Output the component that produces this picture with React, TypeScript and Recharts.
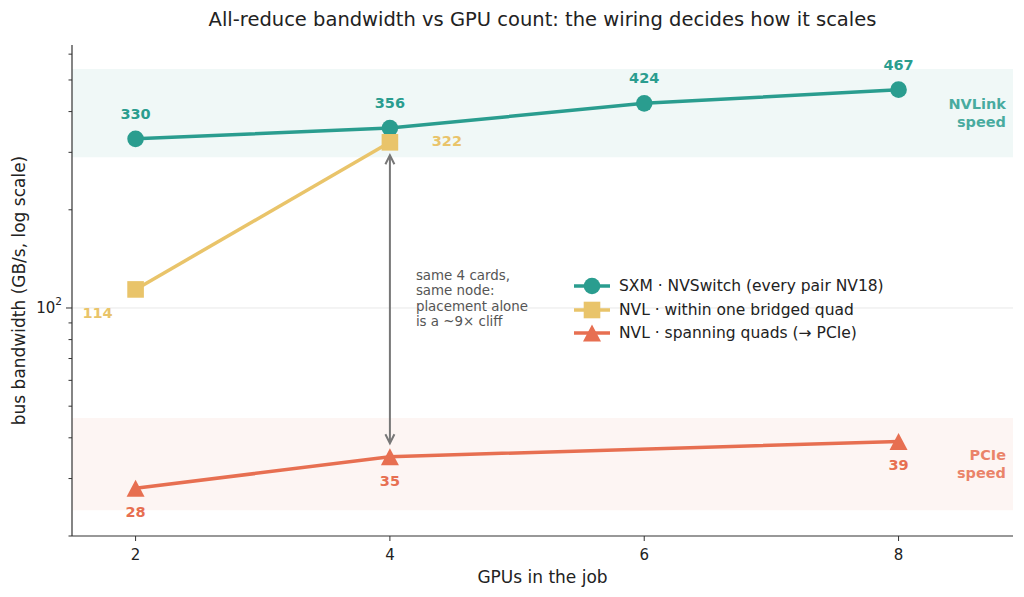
import {
  LineChart,
  Line,
  XAxis,
  YAxis,
  ReferenceArea,
  ReferenceLine,
  LabelList,
  Legend,
} from "recharts";

const FONT = "'DejaVu Sans', sans-serif";

const gpuCounts = [2, 4, 6, 8];
const sxmBandwidth = [330, 356, 424, 467];
const nvlQuadBandwidth = [114, 322, null, null];
const nvlSpanBandwidth = [28, 35, null, 39];

const xTicks = [2, 4, 6, 8];
const yTicks = [20, 30, 40, 50, 60, 70, 80, 90, 100, 200, 300, 400, 500, 600];
const nvlinkBand = [290, 540];
const pcieBand = [24, 46];
// the double arrow between the two 4-GPU NVL runs
const cliffArrow = [294, 38.5];
const cliffNote = ["same 4 cards,", "same node:", "placement alone", "is a ~9× cliff"];

const series = [
  { key: "sxm", name: "SXM · NVSwitch (every pair NV18)", color: "#2a9d8f", shape: "circle" },
  { key: "quad", name: "NVL · within one bridged quad", color: "#e9c46a", shape: "square" },
  { key: "span", name: "NVL · spanning quads (→ PCIe)", color: "#e76f51", shape: "triangle" },
];

const data = gpuCounts.map((g, i) => ({
  gpus: g,
  sxm: sxmBandwidth[i],
  quad: nvlQuadBandwidth[i],
  span: nvlSpanBandwidth[i],
}));

function Marker({ shape, cx, cy, color }: any) {
  if (cx == null || cy == null) return null;
  if (shape === "circle") return <circle cx={cx} cy={cy} r={8.3} fill={color} />;
  if (shape === "square")
    return <rect x={cx - 8.3} y={cy - 8.3} width={16.6} height={16.6} fill={color} />;
  return (
    <path
      d={`M${cx},${cy - 8.5} L${cx + 9},${cy + 8.5} L${cx - 9},${cy + 8.5} Z`}
      fill={color}
    />
  );
}

const dotFor = (shape: string, color: string) => (p: any) => (
  <Marker key={`${shape}-${p.index}`} shape={shape} cx={p.cx} cy={p.cy} color={color} />
);

const valueLabel =
  (color: string, offset: (i: number) => [number, number]) => (p: any) => {
    if (p.value == null) return null;
    const [dx, dy] = offset(p.index);
    return (
      <text
        x={p.x + dx}
        y={p.y + dy}
        textAnchor="middle"
        dominantBaseline="central"
        fill={color}
        fontSize={14.5}
        fontWeight="bold"
        fontFamily={FONT}
      >
        {p.value}
      </text>
    );
  };

const bandLabel = (lines: string[], color: string) => (p: any) => {
  const vb = p.viewBox;
  const mid = vb.y + vb.height / 2;
  return (
    <text
      x={vb.x + vb.width - 7}
      textAnchor="end"
      fill={color}
      fillOpacity={0.85}
      fontSize={14.5}
      fontWeight="bold"
      fontFamily={FONT}
    >
      {lines.map((l, i) => (
        <tspan key={l} x={vb.x + vb.width - 7} y={mid + (i - 0.5) * 17.5} dominantBaseline="central">
          {l}
        </tspan>
      ))}
    </text>
  );
};

const CliffArrow = (p: any) => {
  const x = p.x1;
  const top = Math.min(p.y1, p.y2);
  const bot = Math.max(p.y1, p.y2);
  const mid = (top + bot) / 2;
  const c = "#777";
  return (
    <g>
      <line x1={x} y1={top + 1} x2={x} y2={bot - 1} stroke={c} strokeWidth={2} />
      <path d={`M${x - 4.5},${top + 9} L${x},${top} L${x + 4.5},${top + 9}`} fill="none" stroke={c} strokeWidth={2} />
      <path d={`M${x - 4.5},${bot - 9} L${x},${bot} L${x + 4.5},${bot - 9}`} fill="none" stroke={c} strokeWidth={2} />
      <text fontSize={13.4} fill="#555" fontFamily={FONT}>
        {cliffNote.map((l, i) => (
          <tspan key={l} x={x + 26} y={mid - 24 + i * 15.4} dominantBaseline="central">
            {l}
          </tspan>
        ))}
      </text>
    </g>
  );
};

const YTick = (p: any) => {
  const v = p.payload.value;
  const major = v === 100;
  const len = major ? 6 : 3.5;
  return (
    <g>
      <line x1={p.x - len} x2={p.x} y1={p.y} y2={p.y} stroke="#333" strokeWidth={1} />
      {major && (
        <text
          x={p.x - len - 4}
          y={p.y}
          textAnchor="end"
          dominantBaseline="central"
          fill="#222"
          style={{ fontSize: 15, fontFamily: FONT }}
        >
          10<tspan dy={-7} style={{ fontSize: 10.5 }}>2</tspan>
        </text>
      )}
    </g>
  );
};

const XTick = (p: any) => (
  <g>
    <line x1={p.x} x2={p.x} y1={p.y} y2={p.y + 5} stroke="#333" strokeWidth={1} />
    <text
      x={p.x}
      y={p.y + 19}
      textAnchor="middle"
      dominantBaseline="central"
      fill="#222"
      style={{ fontSize: 15, fontFamily: FONT }}
    >
      {p.payload.value}
    </text>
  </g>
);

const LegendBox = () => (
  <div style={{ fontFamily: FONT, fontSize: 15.5, color: "#222" }}>
    {series.map((s) => (
      <div key={s.key} style={{ display: "flex", alignItems: "center", height: 23.8 }}>
        <svg width={38} height={22}>
          <line x1={1} x2={37} y1={11} y2={11} stroke={s.color} strokeWidth={3.5} />
          <Marker shape={s.shape} cx={19} cy={11} color={s.color} />
        </svg>
        <span style={{ marginLeft: 8, whiteSpace: "nowrap" }}>{s.name}</span>
      </div>
    ))}
  </div>
);

export default function App() {
  return (
    <div style={{ position: "absolute", left: 0, top: 0, width: 1024, height: 597, background: "#fff", fontFamily: FONT }}>
      <div
        style={{
          position: "absolute",
          left: 72,
          width: 941,
          top: 8,
          textAlign: "center",
          fontSize: 19.5,
          color: "#222",
          lineHeight: "24px",
        }}
      >
        All-reduce bandwidth vs GPU count: the wiring decides how it scales
      </div>
      <LineChart
        width={1024}
        height={597}
        data={data}
        margin={{ top: 45, right: 11, bottom: 31, left: 12 }}
      >
        <XAxis
          dataKey="gpus"
          type="number"
          domain={[1.5, 8.9]}
          ticks={xTicks}
          allowDataOverflow
          height={30}
          stroke="#333"
          strokeWidth={1.2}
          tickLine={false}
          tickSize={0}
          tickMargin={0}
          tick={XTick}
          label={(p: any) => (
            <text
              x={p.viewBox.x + p.viewBox.width / 2}
              y={p.viewBox.y + 41}
              textAnchor="middle"
              dominantBaseline="central"
              fontSize={17}
              fill="#222"
              fontFamily={FONT}
            >
              GPUs in the job
            </text>
          )}
        />
        <YAxis
          type="number"
          scale="log"
          domain={[20, 640]}
          allowDataOverflow
          ticks={yTicks}
          interval={0}
          width={60}
          stroke="#333"
          strokeWidth={1.2}
          tickLine={false}
          tickSize={0}
          tickMargin={0}
          tick={YTick}
          label={(p: any) => {
            const x = p.viewBox.x + 6.5;
            const y = p.viewBox.y + p.viewBox.height / 2;
            return (
              <text
                x={x}
                y={y}
                transform={`rotate(-90 ${x} ${y})`}
                textAnchor="middle"
                dominantBaseline="central"
                fontSize={17}
                fill="#222"
                fontFamily={FONT}
              >
                bus bandwidth (GB/s, log scale)
              </text>
            );
          }}
        />
        <ReferenceArea
          y1={nvlinkBand[0]}
          y2={nvlinkBand[1]}
          fill="#2a9d8f"
          fillOpacity={0.07}
          stroke="none"
          label={bandLabel(["NVLink", "speed"], "#2a9d8f")}
        />
        <ReferenceArea
          y1={pcieBand[0]}
          y2={pcieBand[1]}
          fill="#e76f51"
          fillOpacity={0.07}
          stroke="none"
          label={bandLabel(["PCIe", "speed"], "#e76f51")}
        />
        <ReferenceLine y={100} stroke="#e8e8e8" strokeWidth={1} />
        <ReferenceLine
          segment={[
            { x: 4, y: cliffArrow[0] },
            { x: 4, y: cliffArrow[1] },
          ]}
          shape={CliffArrow}
        />
        <Line
          dataKey="sxm"
          name={series[0].name}
          stroke={series[0].color}
          strokeWidth={3.5}
          dot={dotFor("circle", series[0].color)}
          activeDot={false}
          isAnimationActive={false}
        >
          <LabelList dataKey="sxm" content={valueLabel(series[0].color, () => [0, -25])} />
        </Line>
        <Line
          dataKey="quad"
          name={series[1].name}
          stroke={series[1].color}
          strokeWidth={3.5}
          dot={dotFor("square", series[1].color)}
          activeDot={false}
          isAnimationActive={false}
        >
          <LabelList
            dataKey="quad"
            content={valueLabel(series[1].color, (i) => (i === 0 ? [-38, 24] : [57, -1]))}
          />
        </Line>
        <Line
          dataKey="span"
          name={series[2].name}
          stroke={series[2].color}
          strokeWidth={3.5}
          connectNulls
          dot={dotFor("triangle", series[2].color)}
          activeDot={false}
          isAnimationActive={false}
        >
          <LabelList dataKey="span" content={valueLabel(series[2].color, () => [0, 24])} />
        </Line>
        <Legend
          layout="vertical"
          align="center"
          verticalAlign="middle"
          content={LegendBox}
          wrapperStyle={{ left: 573, top: 274, width: 360 }}
        />
      </LineChart>
    </div>
  );
}
